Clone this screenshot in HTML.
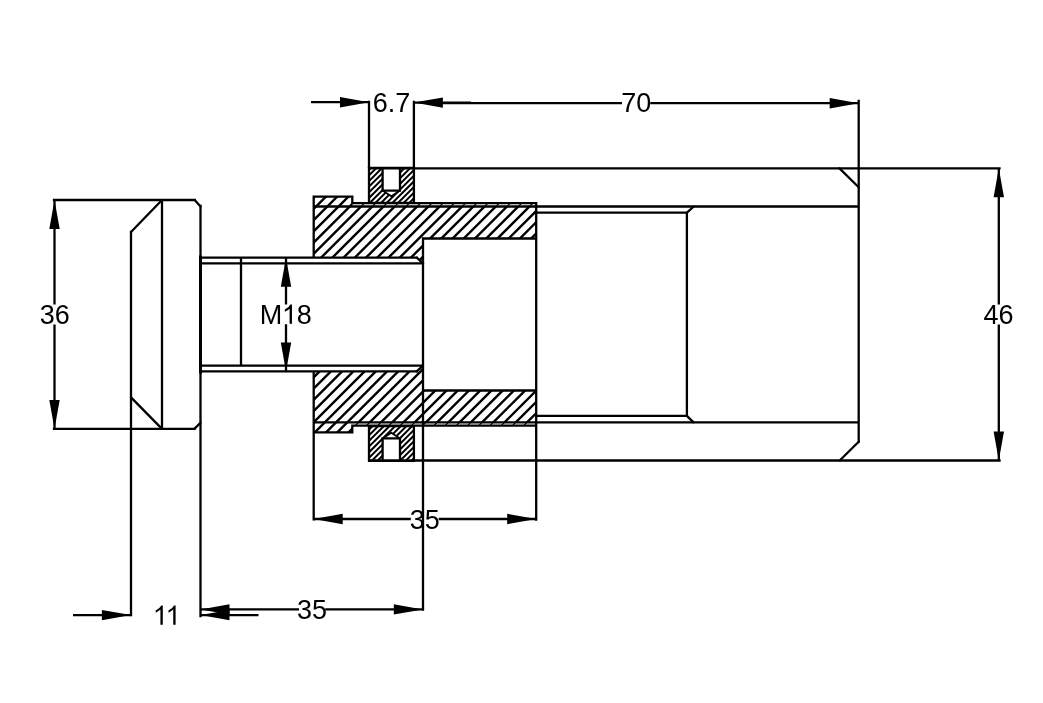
<!DOCTYPE html><html><head><meta charset="utf-8"><title>Drawing</title><style>html,body{margin:0;padding:0;background:#fff;overflow:hidden;}svg{display:block;will-change:transform;}</style></head><body>
<svg width="1043" height="703" viewBox="0 0 1043 703">
<rect width="1043" height="703" fill="#fff"/>
<defs><clipPath id="h0"><polygon points="313.7,206.5 536.2,206.5 536.2,238.5 423,238.5 423,263.4 416.8,257.7 313.7,257.7"/></clipPath><clipPath id="h1"><polygon points="313.7,196.7 352.3,196.7 352.3,206.5 313.7,206.5"/></clipPath><clipPath id="h2"><polygon points="352.3,203.2 536.2,203.2 536.2,206.5 352.3,206.5"/></clipPath><clipPath id="h3"><polygon points="313.7,371.4 416.8,371.4 423,365.7 423,390.5 536.2,390.5 536.2,422.3 313.7,422.3"/></clipPath><clipPath id="h4"><polygon points="313.7,422.3 352.3,422.3 352.3,432.3 313.7,432.3"/></clipPath><clipPath id="h5"><polygon points="352.3,422.3 536.2,422.3 536.2,425.6 352.3,425.6"/></clipPath><clipPath id="r0"><path clip-rule="evenodd" d="M369,167.9H413.9V202.9H369Z M382.6,167.9L400,167.9L400,190.6L391.3,196.3L382.6,190.6Z"/></clipPath><clipPath id="r1"><path clip-rule="evenodd" d="M369,426.1H413.9V460.9H369Z M382.6,460.9L400,460.9L400,438.4L391.3,432.7L382.6,438.4Z"/></clipPath></defs>
<path clip-path="url(#h0)" d="M293.7,206.43L556.2,-56.07M293.7,217.66L556.2,-44.84M293.7,228.89L556.2,-33.61M293.7,240.12L556.2,-22.38M293.7,251.35L556.2,-11.15M293.7,262.58L556.2,0.08M293.7,273.81L556.2,11.31M293.7,285.04L556.2,22.54M293.7,296.27L556.2,33.77M293.7,307.5L556.2,45M293.7,318.73L556.2,56.23M293.7,329.96L556.2,67.46M293.7,341.19L556.2,78.69M293.7,352.42L556.2,89.92M293.7,363.65L556.2,101.15M293.7,374.88L556.2,112.38M293.7,386.11L556.2,123.61M293.7,397.34L556.2,134.84M293.7,408.57L556.2,146.07M293.7,419.8L556.2,157.3M293.7,431.03L556.2,168.53M293.7,442.26L556.2,179.76M293.7,453.49L556.2,190.99M293.7,464.72L556.2,202.22M293.7,475.95L556.2,213.45M293.7,487.18L556.2,224.68M293.7,498.41L556.2,235.91M293.7,509.64L556.2,247.14M293.7,520.87L556.2,258.37" stroke="#000" stroke-width="2.4" fill="none"/>
<path clip-path="url(#h1)" d="M293.7,195.2L372.3,116.6M293.7,206.43L372.3,127.83M293.7,217.66L372.3,139.06M293.7,228.89L372.3,150.29M293.7,240.12L372.3,161.52M293.7,251.35L372.3,172.75M293.7,262.58L372.3,183.98M293.7,273.81L372.3,195.21M293.7,285.04L372.3,206.44" stroke="#000" stroke-width="2.4" fill="none"/>
<path clip-path="url(#h2)" d="M332.3,201.52L556.2,-22.38M332.3,212.75L556.2,-11.15M332.3,223.98L556.2,0.08M332.3,235.21L556.2,11.31M332.3,246.44L556.2,22.54M332.3,257.67L556.2,33.77M332.3,268.9L556.2,45M332.3,280.13L556.2,56.23M332.3,291.36L556.2,67.46M332.3,302.59L556.2,78.69M332.3,313.82L556.2,89.92M332.3,325.05L556.2,101.15M332.3,336.28L556.2,112.38M332.3,347.51L556.2,123.61M332.3,358.74L556.2,134.84M332.3,369.97L556.2,146.07M332.3,381.2L556.2,157.3M332.3,392.43L556.2,168.53M332.3,403.66L556.2,179.76M332.3,414.89L556.2,190.99M332.3,426.12L556.2,202.22" stroke="#000" stroke-width="1.2" fill="none"/>
<path clip-path="url(#h3)" d="M293.7,363.65L556.2,101.15M293.7,374.88L556.2,112.38M293.7,386.11L556.2,123.61M293.7,397.34L556.2,134.84M293.7,408.57L556.2,146.07M293.7,419.8L556.2,157.3M293.7,431.03L556.2,168.53M293.7,442.26L556.2,179.76M293.7,453.49L556.2,190.99M293.7,464.72L556.2,202.22M293.7,475.95L556.2,213.45M293.7,487.18L556.2,224.68M293.7,498.41L556.2,235.91M293.7,509.64L556.2,247.14M293.7,520.87L556.2,258.37M293.7,532.1L556.2,269.6M293.7,543.33L556.2,280.83M293.7,554.56L556.2,292.06M293.7,565.79L556.2,303.29M293.7,577.02L556.2,314.52M293.7,588.25L556.2,325.75M293.7,599.48L556.2,336.98M293.7,610.71L556.2,348.21M293.7,621.94L556.2,359.44M293.7,633.17L556.2,370.67M293.7,644.4L556.2,381.9M293.7,655.63L556.2,393.13M293.7,666.86L556.2,404.36M293.7,678.09L556.2,415.59" stroke="#000" stroke-width="2.4" fill="none"/>
<path clip-path="url(#h4)" d="M293.7,431.03L372.3,352.43M293.7,442.26L372.3,363.66M293.7,453.49L372.3,374.89M293.7,464.72L372.3,386.12M293.7,475.95L372.3,397.35M293.7,487.18L372.3,408.58M293.7,498.41L372.3,419.81M293.7,509.64L372.3,431.04" stroke="#000" stroke-width="2.4" fill="none"/>
<path clip-path="url(#h5)" d="M332.3,426.12L556.2,202.22M332.3,437.35L556.2,213.45M332.3,448.58L556.2,224.68M332.3,459.81L556.2,235.91M332.3,471.04L556.2,247.14M332.3,482.27L556.2,258.37M332.3,493.5L556.2,269.6M332.3,504.73L556.2,280.83M332.3,515.96L556.2,292.06M332.3,527.19L556.2,303.29M332.3,538.42L556.2,314.52M332.3,549.65L556.2,325.75M332.3,560.88L556.2,336.98M332.3,572.11L556.2,348.21M332.3,583.34L556.2,359.44M332.3,594.57L556.2,370.67M332.3,605.8L556.2,381.9M332.3,617.03L556.2,393.13M332.3,628.26L556.2,404.36M332.3,639.49L556.2,415.59M332.3,650.72L556.2,426.82" stroke="#000" stroke-width="1.2" fill="none"/>
<path clip-path="url(#r0)" d="M349,178.45L433.9,93.55M349,184.1L433.9,99.2M349,189.75L433.9,104.85M349,195.4L433.9,110.5M349,201.05L433.9,116.15M349,206.7L433.9,121.8M349,212.35L433.9,127.45M349,218L433.9,133.1M349,223.65L433.9,138.75M349,229.3L433.9,144.4M349,234.95L433.9,150.05M349,240.6L433.9,155.7M349,246.25L433.9,161.35M349,251.9L433.9,167M349,257.55L433.9,172.65M349,263.2L433.9,178.3M349,268.85L433.9,183.95M349,274.5L433.9,189.6" stroke="#000" stroke-width="2.0" fill="none"/>
<path clip-path="url(#r1)" d="M349,438.35L433.9,353.45M349,444L433.9,359.1M349,449.65L433.9,364.75M349,455.3L433.9,370.4M349,460.95L433.9,376.05M349,466.6L433.9,381.7M349,472.25L433.9,387.35M349,477.9L433.9,393M349,483.55L433.9,398.65M349,489.2L433.9,404.3M349,494.85L433.9,409.95M349,500.5L433.9,415.6M349,506.15L433.9,421.25M349,511.8L433.9,426.9M349,517.45L433.9,432.55M349,523.1L433.9,438.2M349,528.75L433.9,443.85M349,534.4L433.9,449.5" stroke="#000" stroke-width="2.0" fill="none"/>
<path d="M54,200L194.7,200M200.5,206.4L200.5,422.7M194.4,428.9L54,428.9M131,232L131,615.2M162,200L162,428.9M200.5,206L200.5,616M200.5,257.7L416.8,257.7M200.5,263.4L423,263.4M200.5,371.4L416.8,371.4M200.5,365.7L423,365.7M241,257.7L241,365.5M313.7,196.7L313.7,257.7M313.7,371.4L313.7,519.4M313.7,196.7L352.3,196.7M352.3,196.7L352.3,203.2M352.3,203.2L536.2,203.2M313.7,206.5L858.7,206.5M536.2,203.2L536.2,519.6M423,238.5L536.2,238.5M423,238.5L423,609.6M423,390.5L536.2,390.5M313.7,422.3L858.7,422.3M313.7,432.3L352.3,432.3M352.3,432.3L352.3,425.6M352.3,425.6L536.2,425.6M369,167.9L369,202.9M413.9,167.9L413.9,202.9M369,167.9L413.9,167.9M369,202.9L413.9,202.9M382.6,167.9L382.6,190.6M400,167.9L400,190.6M382.6,190.6L400,190.6M369,426.1L369,460.9M413.9,426.1L413.9,460.9M369,426.1L413.9,426.1M369,460.9L413.9,460.9M382.6,460.9L382.6,438.4M400,460.9L400,438.4M382.6,438.4L400,438.4M369,168.35L999.5,168.35M858.7,101L858.7,441.7M369,460.5L999.5,460.5M536.2,212.7L686.9,212.7M686.9,212.7L686.9,415.9M536.2,415.9L686.9,415.9" stroke="#000" stroke-width="2.3" fill="none" stroke-linecap="square"/>
<path d="M194.7,200L200.5,206.4M200.5,422.7L194.4,428.9M131,232L162,200M131,397.4L162,428.9M416.8,257.7L423,263.4M416.8,371.4L423,365.7M839.5,168.35L858.7,187.2M858.7,441.7L839.7,460.5M686.9,212.7L693.8,206.5M686.9,415.9L693.5,422.3" stroke="#000" stroke-width="2.3" fill="none" stroke-linecap="round"/>
<path d="M200.5,257L200.5,372" stroke="#000" stroke-width="3.0" fill="none" stroke-linecap="square"/>
<path d="M382.6,190.6L391.3,196.3M391.3,196.3L400,190.6M382.6,438.4L391.3,432.7M391.3,432.7L400,438.4" stroke="#000" stroke-width="1.8" fill="none" stroke-linecap="round"/>
<path d="M311,102.2L369,102.2M413.9,102.6L471,102.6M440,103.2L622,103.2M650.3,103.2L858.7,103.2M369,100.7L369,168M413.9,100.7L413.9,168M54.5,200L54.5,304.6M54.5,324.5L54.5,428.9M286,257.7L286,304.5M286,324.3L286,371.4M998.8,168.35L998.8,304.6M998.8,324.5L998.8,460.5M313.7,519L410.8,519M438.7,519L536.2,519M200.5,609.4L299,609.4M325.2,609.4L422.8,609.4M73,615.1L130.9,615.1M200.5,615.1L258.5,615.1" stroke="#000" stroke-width="2.3" fill="none" stroke-linecap="butt"/>
<polygon points="369,102.2 340,107.4 340,97" fill="#000"/>
<polygon points="413.9,102.6 442.9,97.4 442.9,107.8" fill="#000"/>
<polygon points="858.7,103.2 829.7,108.4 829.7,98" fill="#000"/>
<polygon points="54.5,200 59.7,229 49.3,229" fill="#000"/>
<polygon points="54.5,428.9 49.3,399.9 59.7,399.9" fill="#000"/>
<polygon points="286,257.7 291.2,286.7 280.8,286.7" fill="#000"/>
<polygon points="286,371.4 280.8,342.4 291.2,342.4" fill="#000"/>
<polygon points="998.8,168.35 1004,197.35 993.6,197.35" fill="#000"/>
<polygon points="998.8,460.5 993.6,431.5 1004,431.5" fill="#000"/>
<polygon points="313.7,519 342.7,513.8 342.7,524.2" fill="#000"/>
<polygon points="536.2,519 507.2,524.2 507.2,513.8" fill="#000"/>
<polygon points="200.5,609.4 229.5,604.2 229.5,614.6" fill="#000"/>
<polygon points="422.8,609.4 393.8,614.6 393.8,604.2" fill="#000"/>
<polygon points="130.9,615.1 101.9,620.3 101.9,609.9" fill="#000"/>
<polygon points="200.5,615.1 229.5,609.9 229.5,620.3" fill="#000"/>
<text x="391.5" y="111.8" text-anchor="middle" font-family="Liberation Sans, sans-serif" font-size="27" fill="#000">6.7</text>
<text x="636.3" y="112.3" text-anchor="middle" font-family="Liberation Sans, sans-serif" font-size="27" fill="#000">70</text>
<text x="54.8" y="324" text-anchor="middle" font-family="Liberation Sans, sans-serif" font-size="27" fill="#000">36</text>
<text x="259.8" y="323.8" text-anchor="start" font-family="Liberation Sans, sans-serif" font-size="27" fill="#000">M</text>
<text x="296.7" y="323.8" text-anchor="start" font-family="Liberation Sans, sans-serif" font-size="27" fill="#000">8</text>
<text x="998.6" y="323.8" text-anchor="middle" font-family="Liberation Sans, sans-serif" font-size="27" fill="#000">46</text>
<text x="424.8" y="528.5" text-anchor="middle" font-family="Liberation Sans, sans-serif" font-size="27" fill="#000">35</text>
<text x="312" y="618.6" text-anchor="middle" font-family="Liberation Sans, sans-serif" font-size="27" fill="#000">35</text>
<path transform="translate(281.9,323.8) scale(0.01318,-0.01318)" d="M763,0L583,0L583,1147Q420,1000 223,911L223,1085Q520,1220 646,1466L763,1466Z" fill="#000"/>
<path transform="translate(152.74,624.7) scale(0.01318,-0.01318)" d="M763,0L583,0L583,1147Q420,1000 223,911L223,1085Q520,1220 646,1466L763,1466Z" fill="#000"/>
<path transform="translate(165.54,624.7) scale(0.01318,-0.01318)" d="M763,0L583,0L583,1147Q420,1000 223,911L223,1085Q520,1220 646,1466L763,1466Z" fill="#000"/>
</svg></body></html>
